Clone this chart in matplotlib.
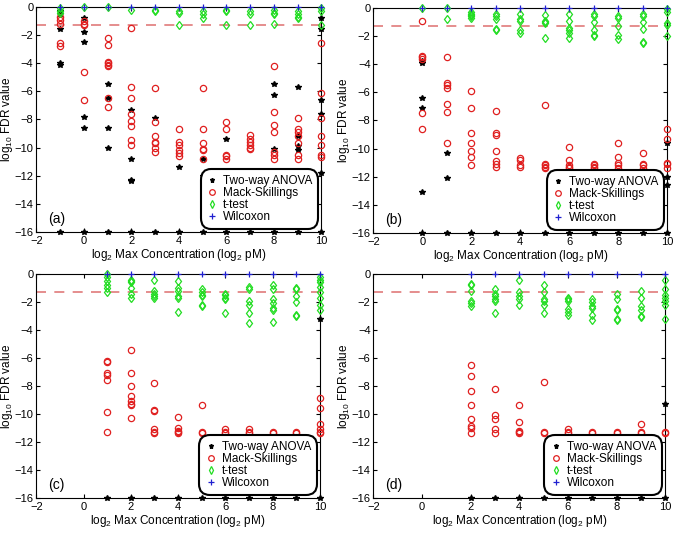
import matplotlib.pyplot as plt

# log10 FDR values per log2 max concentration
# panel (a)
a_anova = {-1: [-0.3, -0.5, -1.6, -4.0, -4.1, -16], 0: [-0.8, -1.8, -2.5, -7.8, -8.6, -16],
           1: [-5.5, -6.5, -8.6, -10.0, -16], 2: [-7.3, -10.8, -12.3, -12.4, -16],
           3: [-7.9, -16], 4: [-11.4, -16], 5: [-10.8, -12.0, -16], 6: [-9.4, -16], 7: [-16],
           8: [-5.5, -6.3, -10.1, -12.1, -16], 9: [-5.7, -9.2, -9.9, -10.2, -16],
           10: [-0.8, -1.6, -6.6, -7.6, -11.8, -16]}
a_mack = {-1: [-0.7, -0.9, -1.2, -2.6, -2.8], 0: [-1.0, -1.2, -1.3, -4.6, -6.6],
          1: [-2.2, -2.7, -3.9, -4.0, -4.1, -4.2, -6.5, -7.1],
          2: [-1.5, -5.7, -6.5, -7.6, -8.1, -8.5, -9.5, -9.8],
          3: [-5.8, -8.2, -9.2, -9.6, -9.7, -10.0, -10.3],
          4: [-8.7, -9.6, -9.8, -10.2, -10.4, -10.6],
          5: [-5.8, -8.7, -9.7, -10.1, -10.2, -10.8],
          6: [-8.2, -8.7, -10.5, -10.6, -10.8],
          7: [-9.1, -9.4, -9.6, -9.8, -10.0, -10.1],
          8: [-4.2, -7.5, -8.4, -8.9, -10.3, -10.5, -10.8],
          9: [-7.9, -8.7, -8.9, -9.2, -9.7, -10.5, -10.8],
          10: [-2.6, -6.1, -7.9, -9.2, -9.8, -10.5, -10.7]}
a_ttest = {-1: [-0.1, -0.3, -0.4], 0: [0.0], 1: [0.0], 2: [-0.2], 3: [-0.2, -0.3],
           4: [-0.3, -0.4, -1.3], 5: [-0.3, -0.5, -0.8], 6: [-0.2, -0.3, -1.3],
           7: [-0.3, -0.5, -1.3], 8: [-0.2, -0.4, -0.5, -1.2], 9: [-0.3, -0.5, -0.7, -0.8],
           10: [-0.1, -0.3, -1.3]}
a_wilcoxon = {c: [0.0] for c in range(-1, 11)}

# panel (b)
b_anova = {0: [-3.8, -3.9, -6.4, -7.1, -13.1, -16], 1: [-10.3, -12.1, -16],
           2: [-16], 3: [-16], 4: [-16], 5: [-16], 6: [-16], 7: [-16], 8: [-16], 9: [-16],
           10: [-9.6, -12.0, -12.6, -16]}
b_mack = {0: [-0.9, -3.4, -3.5, -3.6, -7.5, -8.6],
          1: [-3.5, -5.3, -5.5, -5.7, -6.8, -7.4, -9.6],
          2: [-5.9, -7.1, -8.9, -9.6, -10.2, -10.6, -11.2],
          3: [-7.3, -8.9, -9.0, -10.2, -10.9, -11.1, -11.3],
          4: [-10.7, -10.8, -11.2, -11.3],
          5: [-6.9, -11.1, -11.2, -11.3, -11.4],
          6: [-9.9, -10.8, -11.2, -11.3, -11.4],
          7: [-11.1, -11.2, -11.3, -11.4],
          8: [-9.6, -10.6, -11.0, -11.2, -11.4],
          9: [-10.3, -11.1, -11.2, -11.4],
          10: [-8.6, -9.3, -11.0, -11.1, -11.4]}
b_ttest = {0: [0.0], 1: [0.0, -0.8], 2: [-0.3, -0.4, -0.5, -0.6, -0.7],
           3: [-0.4, -0.6, -0.8, -1.5, -1.6], 4: [-0.4, -0.8, -0.9, -1.6, -1.8],
           5: [-0.5, -0.9, -1.0, -1.1, -2.1], 6: [-0.4, -0.9, -1.4, -1.6, -1.8, -2.1],
           7: [-0.4, -0.6, -1.0, -1.6, -1.9, -2.0], 8: [-0.6, -0.7, -1.3, -1.9, -2.2],
           9: [-0.4, -0.6, -1.0, -1.5, -2.4, -2.5], 10: [-0.1, -0.3, -1.1, -1.2, -2.0]}
b_wilcoxon = {c: [0.0] for c in range(0, 11)}

# panel (c)
c_anova = {1: [-16], 2: [-16], 3: [-16], 4: [-16], 5: [-16], 6: [-16], 7: [-16],
           8: [-16], 9: [-16], 10: [-3.2, -16]}
c_mack = {1: [-6.2, -6.3, -7.1, -7.2, -7.6, -9.9, -11.3],
          2: [-5.4, -7.1, -8.0, -8.7, -9.1, -9.3, -9.4, -10.3],
          3: [-7.8, -9.7, -9.8, -11.1, -11.3, -11.4],
          4: [-10.2, -11.0, -11.2, -11.3, -11.4],
          5: [-9.4, -11.3, -11.4], 6: [-11.1, -11.3, -11.4], 7: [-11.1, -11.3, -11.4],
          8: [-11.3, -11.4], 9: [-11.3, -11.4],
          10: [-8.9, -9.6, -10.7, -11.1, -11.3, -11.4]}
c_ttest = {1: [0.0, -0.2, -0.5, -0.8, -1.0, -1.3], 2: [-0.4, -0.5, -0.6, -1.0, -1.4, -1.7],
           3: [-0.4, -1.2, -1.4, -1.6, -1.7], 4: [-0.5, -1.0, -1.2, -1.6, -1.7, -2.7],
           5: [-1.1, -1.3, -1.5, -1.6, -2.2, -2.3], 6: [-1.4, -1.5, -1.7, -1.8, -2.8],
           7: [-0.9, -1.1, -1.9, -2.2, -2.8, -3.5], 8: [-0.8, -1.1, -1.8, -2.1, -2.4, -2.6, -3.4],
           9: [-1.0, -1.1, -1.6, -2.0, -2.9, -3.0],
           10: [-0.2, -0.4, -0.6, -0.9, -1.3, -1.7, -2.2, -2.6]}
c_wilcoxon = {c: [0.0] for c in range(1, 11)}

# panel (d)
d_anova = {2: [-16], 3: [-16], 4: [-16], 5: [-16], 6: [-16], 7: [-16], 8: [-16],
           9: [-16], 10: [-9.3, -16]}
d_mack = {2: [-6.5, -7.3, -8.4, -9.4, -10.4, -10.9, -11.0, -11.4],
          3: [-8.2, -10.1, -10.4, -11.1, -11.4], 4: [-9.4, -10.6, -11.2, -11.3, -11.4],
          5: [-7.7, -11.3, -11.4], 6: [-11.1, -11.3, -11.4], 7: [-11.3, -11.4],
          8: [-11.3, -11.4], 9: [-10.7, -11.3, -11.4], 10: [-11.3, -11.4]}
d_ttest = {2: [-0.7, -0.8, -1.2, -1.9, -2.1, -2.3], 3: [-1.1, -1.4, -1.6, -1.8, -1.9, -2.8],
           4: [-0.4, -1.3, -1.6, -1.8, -2.2], 5: [-0.8, -1.3, -1.8, -1.9, -2.2, -2.8],
           6: [-1.7, -1.8, -1.9, -2.5, -2.7, -2.9], 7: [-1.8, -2.0, -2.3, -2.4, -2.9, -3.3],
           8: [-1.4, -1.8, -2.5, -2.6, -3.2, -3.3], 9: [-1.2, -1.7, -2.3, -2.6, -3.0, -3.1],
           10: [-0.4, -1.1, -1.5, -1.7, -1.9, -2.2, -3.2]}
d_wilcoxon = {c: [0.0] for c in range(2, 11)}

panel_labels = ['(a)', '(b)', '(c)', '(d)']
fdr_cut = -1.301  # log10(0.05)


def flat(d):
    xs, ys = [], []
    for k, vals in d.items():
        xs += [k] * len(vals)
        ys += vals
    return xs, ys


panels = [(a_anova, a_mack, a_ttest, a_wilcoxon),
          (b_anova, b_mack, b_ttest, b_wilcoxon),
          (c_anova, c_mack, c_ttest, c_wilcoxon),
          (d_anova, d_mack, d_ttest, d_wilcoxon)]
rects = [[0.053, 0.565, 0.416, 0.422],
         [0.545, 0.563, 0.429, 0.422],
         [0.053, 0.066, 0.414, 0.420],
         [0.545, 0.066, 0.426, 0.420]]

plt.rcParams['font.family'] = ['Liberation Sans', 'DejaVu Sans']
plt.rcParams['mathtext.fontset'] = 'custom'
plt.rcParams['mathtext.rm'] = 'Liberation Sans'
plt.rcParams['mathtext.it'] = 'Liberation Sans:italic'
fig = plt.figure(figsize=(6.85, 5.33), dpi=100)

for (anova, mack, ttest, wilc), rect, lab in zip(panels, rects, panel_labels):
    ax = fig.add_axes(rect)
    ax.axhline(fdr_cut, color='#e07a7a', lw=1.2, ls=(0, (6, 5)), zorder=1)
    x, y = flat(anova)
    ax.plot(x, y, '*', color='black', ms=4, ls='none', label='Two-way ANOVA', clip_on=False, zorder=3)
    x, y = flat(mack)
    ax.plot(x, y, 'o', mfc='none', mec='#e02020', mew=0.9, ms=4.5, ls='none',
            label='Mack-Skillings', clip_on=False, zorder=3)
    x, y = flat(ttest)
    ax.plot(x, y, 'd', mfc='none', mec='#22dd22', mew=0.9, ms=4.5, ls='none',
            label='t-test', clip_on=False, zorder=3)
    x, y = flat(wilc)
    ax.plot(x, y, '+', color='#2020d0', ms=4.5, mew=0.9, ls='none', label='Wilcoxon',
            clip_on=False, zorder=4)

    ax.set_xlim(-2, 10)
    ax.set_ylim(-16, 0)
    ax.set_xticks(range(-2, 11, 2))
    ax.set_yticks(range(-16, 1, 2))
    ax.tick_params(direction='in', length=3, labelsize=8, top=True, right=True)
    ax.tick_params(axis='x', pad=3)
    ax.tick_params(axis='y', pad=2)
    ax.set_xlabel(r'log$_\mathrm{2}$ Max Concentration (log$_\mathrm{2}$ pM)', fontsize=8.5, labelpad=1)
    ax.set_ylabel(r'log$_\mathrm{10}$ FDR value', fontsize=8.5)
    ax.yaxis.set_label_coords(-0.074, 0.5)
    ax.text(-1.5, -15.1, lab, fontsize=10, ha='left', va='center')

    leg = ax.legend(loc='lower right', fontsize=8.5, frameon=True, fancybox=True,
                    handletextpad=0.4, labelspacing=0.0, borderaxespad=0.5,
                    handlelength=1.0, borderpad=0.25, markerscale=0.9)
    fr = leg.get_frame()
    fr.set_edgecolor('black')
    fr.set_linewidth(1.5)
    fr.set_alpha(1)
    fr.set_boxstyle('round,pad=0.25,rounding_size=0.9')

plt.savefig('out.png', dpi=100)
